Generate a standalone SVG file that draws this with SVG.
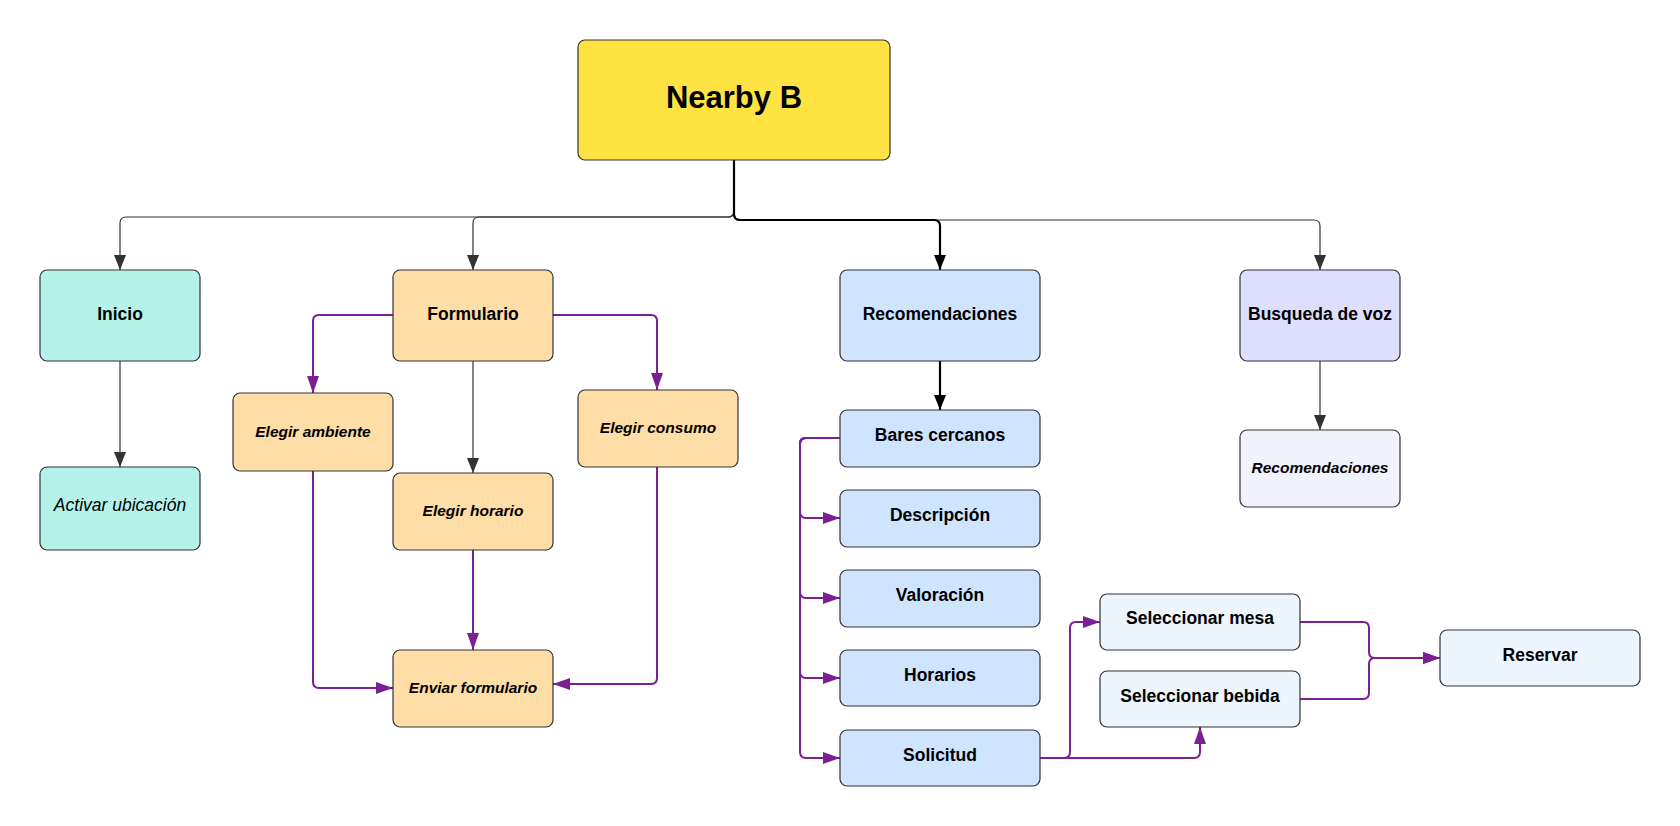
<svg xmlns="http://www.w3.org/2000/svg" width="1680" height="826" viewBox="0 0 1680 826">
<style>
.box{stroke:#333;stroke-width:1.2}
.t{font-family:"Liberation Sans",Arial,sans-serif;font-weight:bold;font-size:17.5px;fill:#000;text-anchor:middle;dominant-baseline:central}
.ti{font-family:"Liberation Sans",Arial,sans-serif;font-weight:bold;font-style:italic;font-size:15.5px;fill:#000;text-anchor:middle;dominant-baseline:central}
.ir{font-family:"Liberation Sans",Arial,sans-serif;font-style:italic;font-size:17.5px;fill:#000;text-anchor:middle;dominant-baseline:central}
.thin{fill:none;stroke:#333;stroke-width:1.2}
.bold{fill:none;stroke:#000;stroke-width:2.2}
.pur{fill:none;stroke:#7b1f95;stroke-width:2}
</style>
<defs>
<marker id="ad" markerUnits="userSpaceOnUse" markerWidth="16" markerHeight="12" refX="15" refY="6" orient="auto"><path d="M0,0 L15,6 L0,12 Z" fill="#333"/></marker>
<marker id="ab" markerUnits="userSpaceOnUse" markerWidth="16" markerHeight="12" refX="15" refY="6" orient="auto"><path d="M0,0 L15,6 L0,12 Z" fill="#000"/></marker>
<marker id="ap" markerUnits="userSpaceOnUse" markerWidth="18" markerHeight="12" refX="17" refY="6" orient="auto"><path d="M0,0 L17,6 L0,12 Z" fill="#7b1f95"/></marker>
</defs>
<rect width="1680" height="826" fill="#fff"/>
<g id="connectors">
<path class="thin" d="M734,160 V211 Q734,217 728,217 H126 Q120,217 120,223 V270" marker-end="url(#ad)"/>
<path class="thin" d="M734,160 V211 Q734,217 728,217 H479 Q473,217 473,223 V270" marker-end="url(#ad)"/>
<path class="thin" d="M734,160 V214 Q734,220 740,220 H1314 Q1320,220 1320,226 V270" marker-end="url(#ad)"/>
<path class="bold" d="M734,160 V214 Q734,220 740,220 H934 Q940,220 940,226 V270" marker-end="url(#ab)"/>
<path class="thin" d="M120,361 V467" marker-end="url(#ad)"/>
<path class="thin" d="M473,361 V473" marker-end="url(#ad)"/>
<path class="thin" d="M1320,361 V430" marker-end="url(#ad)"/>
<path class="bold" d="M940,361 V410" marker-end="url(#ab)"/>
<path class="pur" d="M393,315 H319 Q313,315 313,321 V393" marker-end="url(#ap)"/>
<path class="pur" d="M553,315 H651 Q657,315 657,321 V390" marker-end="url(#ap)"/>
<path class="pur" d="M313,471 V682 Q313,688 319,688 H393" marker-end="url(#ap)"/>
<path class="pur" d="M657,467 V678 Q657,684 651,684 H553" marker-end="url(#ap)"/>
<path class="pur" d="M473,550 V650" marker-end="url(#ap)"/>
<path class="pur" d="M840,438 H806 Q800,438 800,444 V512 Q800,518 806,518 H840" marker-end="url(#ap)"/>
<path class="pur" d="M840,438 H806 Q800,438 800,444 V592 Q800,598 806,598 H840" marker-end="url(#ap)"/>
<path class="pur" d="M840,438 H806 Q800,438 800,444 V672 Q800,678 806,678 H840" marker-end="url(#ap)"/>
<path class="pur" d="M840,438 H806 Q800,438 800,444 V752 Q800,758 806,758 H840" marker-end="url(#ap)"/>
<path class="pur" d="M1040,758 H1064 Q1070,758 1070,752 V628 Q1070,622 1076,622 H1100" marker-end="url(#ap)"/>
<path class="pur" d="M1040,758 H1194 Q1200,758 1200,752 V727" marker-end="url(#ap)"/>
<path class="pur" d="M1300,622 H1363 Q1369,622 1369,628 V652 Q1369,658 1375,658 H1440" marker-end="url(#ap)"/>
<path class="pur" d="M1300,699 H1363 Q1369,699 1369,693 V664 Q1369,658 1375,658 H1440" marker-end="url(#ap)"/>
</g>
<g id="nearby"><rect class="box" x="578" y="40" width="312" height="120" rx="7" fill="#ffe342"/><text x="734" y="97.5" class="t" style="font-size:31px">Nearby B</text></g>
<g id="inicio"><rect class="box" x="40" y="270" width="160" height="91" rx="7" fill="#b5f2ea"/><text x="120" y="314" class="t">Inicio</text></g>
<g id="activar"><rect class="box" x="40" y="467" width="160" height="83" rx="7" fill="#b5f2ea"/><text x="120" y="505" class="ir">Activar ubicación</text></g>
<g id="formulario"><rect class="box" x="393" y="270" width="160" height="91" rx="7" fill="#fedda6"/><text x="473" y="314" class="t">Formulario</text></g>
<g id="ambiente"><rect class="box" x="233" y="393" width="160" height="78" rx="7" fill="#fedda6"/><text x="313" y="431" class="ti">Elegir ambiente</text></g>
<g id="horario"><rect class="box" x="393" y="473" width="160" height="77" rx="7" fill="#fedda6"/><text x="473" y="510" class="ti">Elegir horario</text></g>
<g id="consumo"><rect class="box" x="578" y="390" width="160" height="77" rx="7" fill="#fedda6"/><text x="658" y="427.5" class="ti">Elegir consumo</text></g>
<g id="enviar"><rect class="box" x="393" y="650" width="160" height="77" rx="7" fill="#fedda6"/><text x="473" y="687" class="ti">Enviar formulario</text></g>
<g id="recomendaciones"><rect class="box" x="840" y="270" width="200" height="91" rx="7" fill="#cfe4ff"/><text x="940" y="314" class="t">Recomendaciones</text></g>
<g id="bares"><rect class="box" x="840" y="410" width="200" height="57" rx="7" fill="#cfe4ff"/><text x="940" y="435" class="t">Bares cercanos</text></g>
<g id="descripcion"><rect class="box" x="840" y="490" width="200" height="57" rx="7" fill="#cfe4ff"/><text x="940" y="515" class="t">Descripción</text></g>
<g id="valoracion"><rect class="box" x="840" y="570" width="200" height="57" rx="7" fill="#cfe4ff"/><text x="940" y="595" class="t">Valoración</text></g>
<g id="horarios"><rect class="box" x="840" y="650" width="200" height="56" rx="7" fill="#cfe4ff"/><text x="940" y="675" class="t">Horarios</text></g>
<g id="solicitud"><rect class="box" x="840" y="730" width="200" height="56" rx="7" fill="#cfe4ff"/><text x="940" y="755" class="t">Solicitud</text></g>
<g id="mesa"><rect class="box" x="1100" y="594" width="200" height="56" rx="7" fill="#edf5ff"/><text x="1200" y="618" class="t">Seleccionar mesa</text></g>
<g id="bebida"><rect class="box" x="1100" y="671" width="200" height="56" rx="7" fill="#edf5ff"/><text x="1200" y="696" class="t">Seleccionar bebida</text></g>
<g id="reservar"><rect class="box" x="1440" y="630" width="200" height="56" rx="7" fill="#edf5ff"/><text x="1540" y="654.5" class="t">Reservar</text></g>
<g id="busqueda"><rect class="box" x="1240" y="270" width="160" height="91" rx="7" fill="#dedeff"/><text x="1320" y="314" class="t">Busqueda de voz</text></g>
<g id="recvoz"><rect class="box" x="1240" y="430" width="160" height="77" rx="7" fill="#f2f2ff"/><text x="1320" y="467" class="ti">Recomendaciones</text></g>
</svg>
